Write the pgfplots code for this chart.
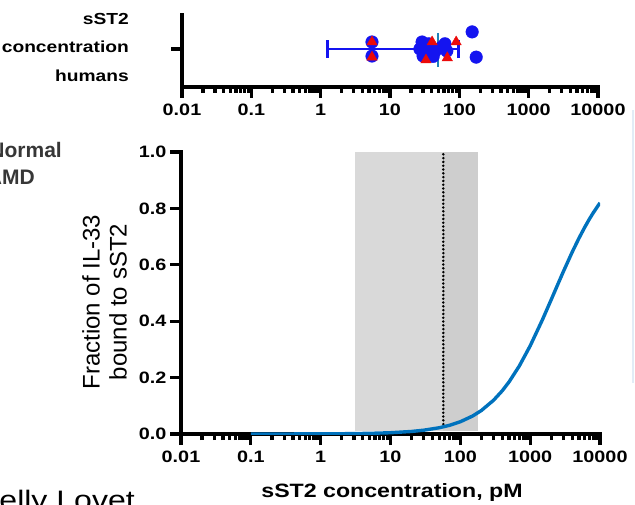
\documentclass[border=0pt]{standalone}
\usepackage{fontspec}
\setmainfont{Liberation Sans}[FakeStretch=1.2]
\newfontfamily\plainsans{Liberation Sans}
\usepackage{pgfplots}
\pgfplotsset{compat=1.18}

\definecolor{curveblue}{RGB}{0,114,189}
\definecolor{dotblue}{RGB}{20,20,240}
\definecolor{trired}{RGB}{235,10,10}
\definecolor{meanteal}{RGB}{30,130,185}
\definecolor{shadeA}{RGB}{217,217,217}
\definecolor{shadeB}{RGB}{206,206,206}
\definecolor{legendgray}{RGB}{55,55,55}
\definecolor{faintblue}{RGB}{225,236,246}

% prism-like look for both axes
\pgfplotsset{
  every axis/.append style={
    scale only axis,
    axis x line=bottom, axis y line=left,
    axis line style={-, line width=3.8pt, line cap=rect},
    xmin=0.01, xmax=10000,
    xtick={0.01,0.1,1,10,100,1000,10000},
    xticklabels={0.01,0.1,1,10,100,1000,10000},
    minor xtick={0.02,0.03,0.04,0.05,0.06,0.07,0.08,0.09,
                 0.2,0.3,0.4,0.5,0.6,0.7,0.8,0.9,
                 2,3,4,5,6,7,8,9,20,30,40,50,60,70,80,90,
                 200,300,400,500,600,700,800,900,
                 2000,3000,4000,5000,6000,7000,8000,9000},
    tick align=outside,
    major tick length=11pt, minor tick length=6pt,
    tick style={line width=3.3pt, black},
    ticklabel style={font=\fontsize{16.5}{18}\selectfont\bfseries},
    xticklabel style={yshift=-2.5pt},
  },
}

\begin{document}
\begin{tikzpicture}
\useasboundingbox (0pt,0pt) rectangle (635pt,504pt);

% top panel: measured concentrations
\begin{semilogxaxis}[at={(182pt,417pt)}, anchor=south west,
  width=416pt, height=72pt, ymin=0, ymax=2,
  ytick={1.056}, yticklabels={}, clip=false]
\addplot[dotblue, line width=2.8pt] coordinates {(1.24,1.056) (96,1.056)};
\addplot[dotblue, line width=2.8pt] coordinates {(1.24,0.806) (1.24,1.306)};
\addplot[dotblue, line width=2.8pt] coordinates {(96,0.806) (96,1.306)};
\addplot[only marks, mark=*, mark size=6.3pt, mark options={draw=dotblue, fill=dotblue}] coordinates {
  (5.5,1.25) (5.5,0.86) (27,1.056) (29,1.25) (30,0.86) (32,1.15) (33,0.95)
  (36,1.2) (38,0.9) (42,0.85) (45,1.0) (55,1.1) (62,1.2) (66,1.0)
  (153,1.53) (175,0.83)};
\addplot[only marks, mark=triangle*, mark size=6pt, mark options={draw=trired, fill=trired}] coordinates {
  (5.5,1.25) (5.5,0.83) (40.5,1.25) (33,0.75) (67,0.81) (90,1.25)};
\addplot[meanteal, line width=2.4pt] coordinates {(49.4,0.556) (49.4,1.5)};
\end{semilogxaxis}

% bottom panel: binding curve
\begin{semilogxaxis}[at={(181pt,70pt)}, anchor=south west,
  width=419pt, height=282pt, ymin=0, ymax=1,
  ytick={0,0.2,0.4,0.6,0.8,1},
  yticklabels={0.0,0.2,0.4,0.6,0.8,1.0}]
\addplot[draw=none, fill=shadeA] coordinates {(3.06,0.01) (3.06,1) (57,1) (57,0.01)} -- cycle;
\addplot[draw=none, fill=shadeB] coordinates {(57,0.01) (57,1) (181,1) (181,0.01)} -- cycle;
\addplot[black, line width=2.8pt, line cap=round, dash pattern=on 0pt off 3.8pt] coordinates {(57,0.035) (57,1)};
\addplot[curveblue, line width=3.4pt] coordinates {
  (0.1,0.00005) (0.2,0.0001) (0.5,0.0002) (1,0.0005) (2,0.0009) (5,0.0023)
  (10,0.0045) (20,0.009) (30,0.0135) (50,0.0222) (70,0.0308) (100,0.0435)
  (150,0.0638) (200,0.0833) (300,0.12) (400,0.1538) (500,0.1852) (700,0.2414)
  (1000,0.3125) (1500,0.4054) (2000,0.4762) (2500,0.5319) (3000,0.5769)
  (4000,0.6452) (5000,0.6944) (6000,0.7317) (7000,0.7609) (8000,0.7843)
  (10000,0.8197)};
\end{semilogxaxis}

\node[anchor=east, align=right, inner sep=0pt, font=\fontsize{16}{28.5}\selectfont\bfseries] at (129pt,457pt) {sST2\\concentration\\humans};
\node[rotate=90, align=center, inner sep=0pt, font=\plainsans\fontsize{24}{27}\selectfont] at (104.5pt,202pt) {Fraction of IL-33\\bound to sST2};
\node[inner sep=0pt, font=\fontsize{19.3}{21}\selectfont\bfseries] at (392pt,11pt) {sST2 concentration, pM};

% cut-off legend and caption of the slide
\node[anchor=base east, inner sep=0pt, text=legendgray, font=\plainsans\fontsize{21}{22}\selectfont\bfseries] at (62pt,346pt) {Normal};
\node[anchor=base east, inner sep=0pt, text=legendgray, font=\plainsans\fontsize{21}{22}\selectfont\bfseries] at (35pt,319pt) {AMD};
\node[anchor=base east, inner sep=0pt, font=\fontsize{26.7}{30}\selectfont] at (135pt,-5pt) {Kelly Lovet};
\draw[faintblue, line width=1.2pt] (633pt,121pt) -- (633pt,394pt);
\end{tikzpicture}
\end{document}
